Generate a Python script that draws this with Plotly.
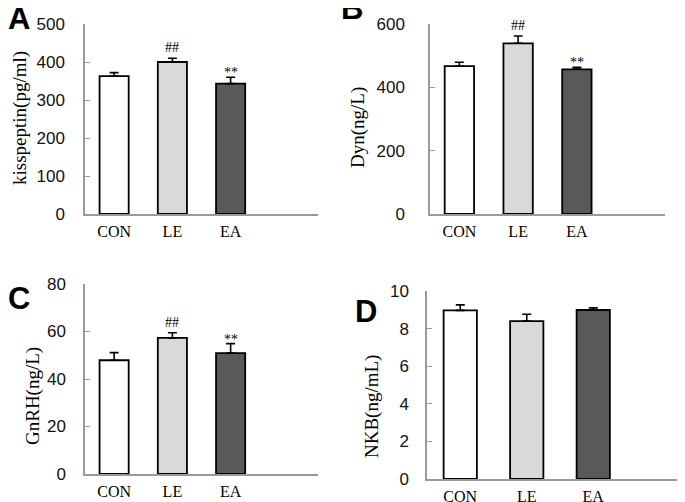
import plotly.graph_objects as go

W, H = 685, 502
OFF = 8  # page body margin offset

groups = ["CON", "LE", "EA"]
bar_colors = ["#ffffff", "#d9d9d9", "#595959"]

kiss_vals = [363, 400, 343]
kiss_err = [9, 10, 17]
dyn_vals = [467, 539, 457]
dyn_err = [12, 23, 6]
gnrh_vals = [47.9, 57.3, 50.9]
gnrh_err = [3.2, 2.2, 4.0]
nkb_vals = [8.97, 8.40, 8.99]
nkb_err = [0.29, 0.36, 0.11]

kiss_marks = ["", "##", "**"]
dyn_marks = ["", "##", "**"]
gnrh_marks = ["", "##", "**"]
nkb_marks = ["", "", ""]

panels = [
    # letter, title, vals, err, marks, ymax, dtick, xpx, ypx, title_pos, letter_pos, standoff
    ("A", "kisspeptin(pg/ml)", kiss_vals, kiss_err, kiss_marks, 500, 100, (85, 318), (24, 214), (20, 118), (19, 19), 15),
    ("B", "Dyn(ng/L)", dyn_vals, dyn_err, dyn_marks, 600, 200, (430, 665), (24, 214), (358, 128), (352, 8), 20),
    ("C", "GnRH(ng/L)", gnrh_vals, gnrh_err, gnrh_marks, 80, 20, (85, 318), (284, 474), (33, 396), (19, 298), 14),
    ("D", "NKB(ng/mL)", nkb_vals, nkb_err, nkb_marks, 10, 2, (427, 693), (291, 479), (372, 407), (366, 311), 13),
]


def fx(px):
    return (px - OFF) / W


def fy(py):
    return 1 - (py - OFF) / H


fig = go.Figure()
annotations = []
layout = {}
for i, (letter, title, vals, err, marks, ymax, dtick, xpx, ypx, tpos, lpos, so) in enumerate(panels):
    n = i + 1
    xa = "x" if n == 1 else f"x{n}"
    ya = "y" if n == 1 else f"y{n}"
    xkey = "xaxis" if n == 1 else f"xaxis{n}"
    ykey = "yaxis" if n == 1 else f"yaxis{n}"
    fig.add_trace(go.Bar(
        x=list(range(len(groups))), y=vals,
        width=0.5,
        marker=dict(color=bar_colors, line=dict(color="#000000", width=1.8)),
        error_y=dict(type="data", array=err, arrayminus=[0] * len(err), symmetric=False,
                     color="#000000", thickness=1.6, width=4.5),
        xaxis=xa, yaxis=ya, showlegend=False,
    ))
    layout[xkey] = dict(
        domain=[fx(xpx[0]), min(1.0, fx(xpx[1]))], anchor=ya, automargin=False,
        range=[-0.5, 3.5], tickvals=list(range(len(groups))), ticktext=groups,
        showline=True, linecolor="#9a9a9a", linewidth=1.5, ticks="", showgrid=False,
        zeroline=False, tickfont=dict(family="Liberation Serif", size=16, color="#000"),
        ticklabelstandoff=2,
    )
    layout[ykey] = dict(
        domain=[fy(ypx[1]), fy(ypx[0])], anchor=xa, automargin=False,
        range=[0, ymax], dtick=dtick, tick0=0,
        showline=True, linecolor="#9a9a9a", linewidth=1.5,
        ticks="inside", ticklen=5, tickcolor="#9a9a9a", tickwidth=1.2,
        showgrid=False, zeroline=False,
        tickfont=dict(family="Liberation Sans", size=17, color="#111"),
        ticklabelstandoff=so,
    )
    annotations.append(dict(
        text=title, textangle=-90, xref="paper", yref="paper",
        x=fx(tpos[0]), y=fy(tpos[1]), xanchor="center", yanchor="middle",
        showarrow=False, font=dict(family="Liberation Serif", size=19, color="#000"),
    ))
    annotations.append(dict(
        text=f"<b>{letter}</b>", xref="paper", yref="paper",
        x=fx(lpos[0]), y=fy(lpos[1]), xanchor="center", yanchor="middle",
        showarrow=False, font=dict(family="Liberation Sans", size=31, color="#000"),
    ))
    for j, m in enumerate(marks):
        if m:
            annotations.append(dict(
                text=m, xref=xa, yref=ya, x=j, y=vals[j] + err[j],
                xanchor="center", yanchor="bottom",
                yshift=1 if m == "##" else -5, showarrow=False,
                font=dict(family="Liberation Serif", size=14, color="#000"),
            ))

fig.update_layout(
    width=W, height=H, margin=dict(l=0, r=0, t=0, b=0, pad=0, autoexpand=False),
    paper_bgcolor="#ffffff", plot_bgcolor="#ffffff",
    annotations=annotations, **layout,
)
fig.write_html("out.html")
